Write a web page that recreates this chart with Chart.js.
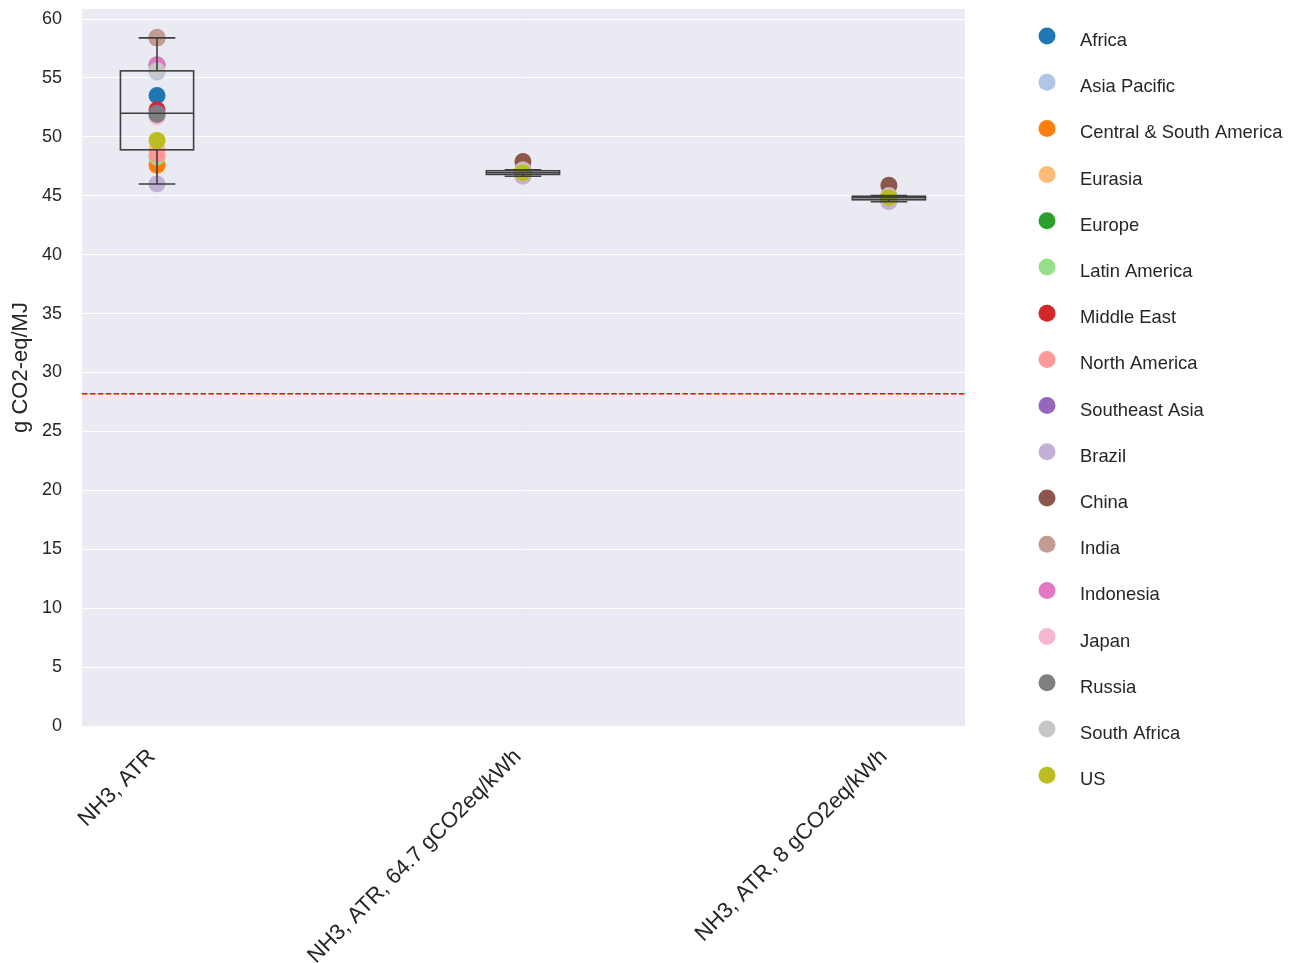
<!DOCTYPE html>
<html>
<head>
<meta charset="utf-8">
<title>NH3 ATR emissions by region</title>
<script src="https://cdn.jsdelivr.net/npm/chart.js@4.4.1/dist/chart.umd.min.js"></script>
<style>
  html, body { margin: 0; padding: 0; background: #ffffff; }
  canvas { display: block; }
</style>
</head>
<body>
<canvas id="chart" width="1295" height="963"></canvas>
<script>
// Pathways on the x axis
const categories = ['NH3, ATR', 'NH3, ATR, 64.7 gCO2eq/kWh', 'NH3, ATR, 8 gCO2eq/kWh'];

// Regions (hue order)
const regions = ['Africa', 'Asia Pacific', 'Central & South America', 'Eurasia', 'Europe',
  'Latin America', 'Middle East', 'North America', 'Southeast Asia', 'Brazil', 'China',
  'India', 'Indonesia', 'Japan', 'Russia', 'South Africa', 'US'];

// g CO2-eq/MJ per region, one array per pathway (same order as regions)
const valuesATR = [53.5, 55.5, 47.6, 48.9, 56.1, 48.3, 52.3, 48.5, 52.0, 46.0, 58.4,
  58.4, 56.1, 51.7, 51.9, 55.6, 49.7];
const valuesATR647 = [47.00, 46.85, 46.75, 46.90, 46.81, 46.70, 47.05, 46.80, 47.10, 46.65, 47.90,
  47.20, 47.18, 46.93, 47.12, 47.15, 46.95];
const valuesATR8 = [44.86, 44.70, 44.60, 44.75, 44.66, 44.55, 44.88, 44.63, 44.92, 44.49, 45.90,
  45.02, 45.00, 44.80, 44.96, 44.98, 44.83];

// Reference threshold (g CO2-eq/MJ)
const thresholdValue = 28.2;

// y-axis ticks
const yTicks = [0, 5, 10, 15, 20, 25, 30, 35, 40, 45, 50, 55, 60];

const palette = ['#1f77b4', '#aec7e8', '#ff7f0e', '#ffbb78', '#2ca02c', '#98df8a', '#d62728',
  '#ff9896', '#9467bd', '#c5b0d5', '#8c564b', '#c49c94', '#e377c2', '#f7b6d2', '#7f7f7f',
  '#c7c7c7', '#bcbd22'];

const seriesByCategory = [valuesATR, valuesATR647, valuesATR8];

const FONT = "'Liberation Sans', Arial, sans-serif";
const TEXT = '#262626';

function quantile(sorted, p) {
  const pos = (sorted.length - 1) * p;
  const lo = Math.floor(pos), hi = Math.ceil(pos);
  return sorted[lo] + (sorted[hi] - sorted[lo]) * (pos - lo);
}

function boxStats(vals) {
  const s = [...vals].sort((a, b) => a - b);
  const q1 = quantile(s, 0.25), med = quantile(s, 0.5), q3 = quantile(s, 0.75);
  const iqr = q3 - q1;
  const lo = Math.min(...s.filter(v => v >= q1 - 1.5 * iqr));
  const hi = Math.max(...s.filter(v => v <= q3 + 1.5 * iqr));
  return { q1, med, q3, lo, hi };
}

// Plot background and dashed threshold line
const backdropPlugin = {
  id: 'backdrop',
  beforeDraw(chart) {
    const { ctx, chartArea: a } = chart;
    ctx.save();
    ctx.fillStyle = '#eaeaf2';
    ctx.fillRect(a.left, a.top, a.right - a.left, a.bottom - a.top);
    ctx.restore();
  },
  beforeDatasetsDraw(chart) {
    const { ctx, chartArea: a, scales } = chart;
    const y = scales.y.getPixelForValue(thresholdValue);
    ctx.save();
    ctx.strokeStyle = '#ff0000';
    ctx.lineWidth = 1.5;
    ctx.setLineDash([5.5, 2.4]);
    ctx.beginPath();
    ctx.moveTo(a.left, y);
    ctx.lineTo(a.right, y);
    ctx.stroke();
    ctx.restore();
  }
};

// Unfilled box-and-whisker per pathway, drawn over the points
const boxPlugin = {
  id: 'boxes',
  afterDatasetsDraw(chart) {
    const { ctx, scales } = chart;
    const xs = scales.x, ys = scales.y;
    ctx.save();
    ctx.strokeStyle = '#3f3f3f';
    ctx.lineWidth = 1.6;
    seriesByCategory.forEach((vals, j) => {
      const st = boxStats(vals);
      const cx = xs.getPixelForValue(j);
      const half = xs.getPixelForValue(j + 0.1) - cx;
      const capHalf = half / 2;
      const yq1 = ys.getPixelForValue(st.q1), yq3 = ys.getPixelForValue(st.q3);
      const ymed = ys.getPixelForValue(st.med);
      const ylo = ys.getPixelForValue(st.lo), yhi = ys.getPixelForValue(st.hi);
      ctx.beginPath();
      ctx.moveTo(cx, yq1); ctx.lineTo(cx, ylo);
      ctx.moveTo(cx, yq3); ctx.lineTo(cx, yhi);
      ctx.moveTo(cx - capHalf, ylo); ctx.lineTo(cx + capHalf, ylo);
      ctx.moveTo(cx - capHalf, yhi); ctx.lineTo(cx + capHalf, yhi);
      ctx.stroke();
      ctx.strokeRect(cx - half, yq3, half * 2, yq1 - yq3);
      ctx.beginPath();
      ctx.moveTo(cx - half, ymed); ctx.lineTo(cx + half, ymed);
      ctx.stroke();
    });
    ctx.restore();
  }
};

// Region legend to the right of the plot
const sideLegendPlugin = {
  id: 'sideLegend',
  afterDraw(chart) {
    const { ctx, chartArea: a } = chart;
    ctx.save();
    ctx.font = '18.4px ' + FONT;
    ctx.textBaseline = 'middle';
    ctx.textAlign = 'left';
    chart.data.datasets.forEach((ds, i) => {
      const cy = a.top + 27 + i * 46.2;
      ctx.fillStyle = ds.backgroundColor;
      ctx.beginPath();
      ctx.arc(a.right + 82, cy, 8.5, 0, Math.PI * 2);
      ctx.fill();
      ctx.fillStyle = TEXT;
      ctx.fillText(ds.label, a.right + 115, cy + 5);
    });
    ctx.restore();
  }
};

// Later regions are drawn on top of earlier ones
const datasets = regions.map((name, i) => ({
  label: name,
  data: categories.map((c, j) => ({ x: j, y: seriesByCategory[j][i] })),
  backgroundColor: palette[i],
  borderWidth: 0,
  pointRadius: 8.5,
  pointHoverRadius: 8.5,
  order: regions.length - 1 - i
}));

new Chart(document.getElementById('chart'), {
  type: 'scatter',
  data: { datasets },
  plugins: [backdropPlugin, boxPlugin, sideLegendPlugin],
  options: {
    responsive: false,
    animation: false,
    devicePixelRatio: 1,
    layout: { padding: { top: 9, right: 330, left: 0, bottom: 0 } },
    plugins: { legend: { display: false }, tooltip: { enabled: false } },
    scales: {
      x: {
        type: 'linear',
        min: -0.205,
        max: 2.208,
        grid: { display: false },
        border: { display: false },
        afterBuildTicks(scale) { scale.ticks = categories.map((c, i) => ({ value: i })); },
        afterFit(scale) {
          scale.height = 237;
          scale.paddingLeft = 0; scale.paddingRight = 0;
          scale.paddingTop = 0; scale.paddingBottom = 0;
        },
        ticks: {
          autoSkip: false,
          minRotation: 45,
          maxRotation: 45,
          padding: 10,
          labelOffset: -5,
          color: TEXT,
          font: { family: FONT, size: 22 },
          callback: (v) => categories[v]
        }
      },
      y: {
        min: 0,
        max: 60.85,
        grid: { color: '#ffffff', lineWidth: 1, drawTicks: false },
        border: { display: false },
        afterBuildTicks(scale) { scale.ticks = yTicks.map(v => ({ value: v })); },
        afterFit(scale) {
          scale.width = 82;
          scale.paddingTop = 0; scale.paddingBottom = 0;
          scale.paddingLeft = 0; scale.paddingRight = 0;
        },
        ticks: {
          padding: 20,
          color: TEXT,
          font: { family: FONT, size: 18 }
        },
        title: {
          display: true,
          text: 'g CO2-eq/MJ',
          color: TEXT,
          font: { family: FONT, size: 22 },
          padding: { top: 8, bottom: 0 }
        }
      }
    }
  }
});
</script>
</body>
</html>
